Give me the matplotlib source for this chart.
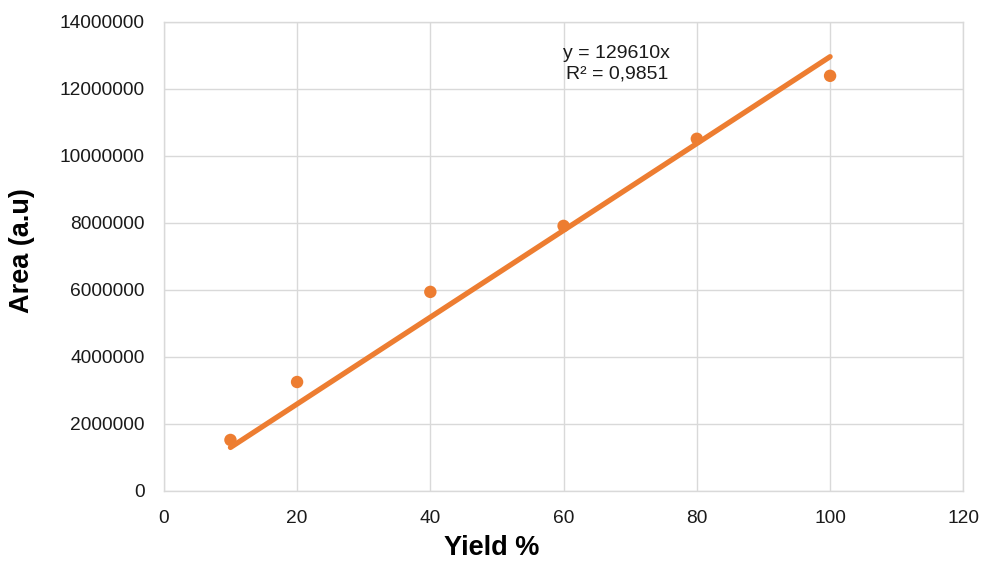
import matplotlib
matplotlib.use("Agg")
import matplotlib.pyplot as plt
import numpy as np

plt.rcParams['font.family'] = ['Liberation Sans', 'DejaVu Sans']

# Measured calibration points
yield_pct = [10, 20, 40, 60, 80, 100]
area = [1520000, 3250000, 5940000, 7910000, 10510000, 12390000]

# Linear trend through the origin
slope = 129610
r_squared = "0,9851"

x_ticks = [0, 20, 40, 60, 80, 100, 120]
y_ticks = [0, 2000000, 4000000, 6000000, 8000000, 10000000, 12000000, 14000000]

orange = "#ED7D31"
grid_c = "#D9D9D9"

fig = plt.figure(figsize=(9.81, 5.61), dpi=100)
ax = fig.add_axes([0.167, 0.125, 0.815, 0.836])

ax.scatter(yield_pct, area, s=80, color=orange, zorder=3, edgecolors="none")
xs = np.array([min(yield_pct), max(yield_pct)])
ax.plot(xs, slope * xs, color=orange, lw=3.8, solid_capstyle="round", zorder=2)

ax.set_xlim(0, 120)
ax.set_ylim(0, 14000000)
ax.set_xticks(x_ticks)
ax.set_yticks(y_ticks)
ax.set_xticklabels([str(t) for t in x_ticks])
ax.set_yticklabels([str(t) for t in y_ticks])
ax.tick_params(length=0, labelsize=13.8, colors="#1a1a1a", pad=14)
ax.tick_params(axis="x", pad=14)

ax.grid(True, color=grid_c, lw=1)
ax.set_axisbelow(True)
for s in ax.spines.values():
    s.set_color(grid_c)
    s.set_linewidth(1)

ax.set_xlabel("Yield %", fontsize=19.5, fontweight="bold")
ax.set_ylabel("Area (a.u)", fontsize=19.5, fontweight="bold")
ax.xaxis.set_label_coords((492 - 164) / 799, -(548 - 491) / 469)
ax.yaxis.set_label_coords(-(164 - 22) / 799, (491 - 251) / 469)
ax.xaxis.label.set_va("center")
ax.yaxis.label.set_va("center")

ax.text(68.0, 12750000, f"y = {slope}x\nR² = {r_squared}", ha="center", va="center",
        fontsize=14, color="#1a1a1a", linespacing=1.3)

fig.savefig("out.png", dpi=100, facecolor="white")
